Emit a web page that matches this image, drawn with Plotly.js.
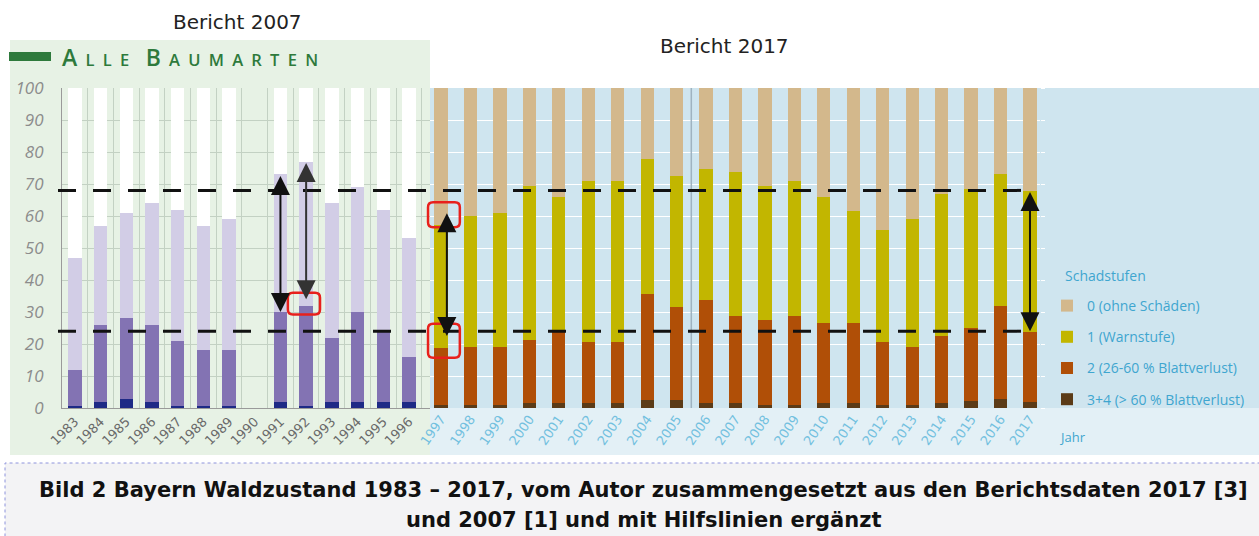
<!DOCTYPE html>
<html><head><meta charset="utf-8">
<script src="https://cdn.plot.ly/plotly-3.0.1.min.js"></script>
<style>html,body{margin:0;padding:0;background:#fff}#chart{width:1259px;height:536px}</style>
</head><body><div id="chart"></div>
<script>
// ---- Data: Bericht 2007 (1983-1996) ----
const yearsL = ['1983','1984','1985','1986','1987','1988','1989','1990','1991','1992','1993','1994','1995','1996'];
const l34 = [0.7,2,2.8,2,0.7,0.7,0.7,null,2,0.7,2,2,2,2];
const l2  = [11.3,24,25.2,24,20.3,17.3,17.3,null,28,31.3,20,28,22,14];
const l1  = [35,31,33,38,41,39,41,null,43,45,42,39,38,37];
const l0  = [53,43,39,36,38,43,41,null,27,23,36,31,38,47];

// ---- Data: Bericht 2017 (1997-2017) ----
const yearsR = ['1997','1998','1999','2000','2001','2002','2003','2004','2005','2006','2007','2008','2009','2010','2011','2012','2013','2014','2015','2016','2017'];
const r34 = [1,1,1,1.5,1.5,1.5,1.5,2.6,2.6,1.5,1.5,1,1,1.5,1.5,1,1,1.5,2.3,2.8,2];
const r2  = [17.7,18,18,19.9,23,19.2,19.2,33.1,28.9,32.1,27.1,26.6,27.6,25.2,25.2,19.7,18.2,21.1,22.7,29.2,21.7];
const r1  = [38.6,41,42,48.1,41.5,50.3,50.3,42.1,41.1,41.2,45,41.9,42.4,39.3,35,35,39.8,44.4,43.5,41,44];
const r0  = [42.7,40,39,30.5,34,29,29,22.2,27.4,25.2,26.4,30.5,29,34,38.3,44.3,41,33,31.5,27,32.3];

const legendNames = ['0 (ohne Schäden)','1 (Warnstufe)','2 (26-60 % Blattverlust)','3+4 (> 60 % Blattverlust)'];
const refLines = [68, 24];   // Hilfslinien

// ---- Geometry ----
const W = 1259, H = 536;
const px = x => x / W, py = y => 1 - y / H;
const domL = [px(62), px(430)], domR = [px(430), px(1040)], domY = [py(408), py(88)];
const rangeL = [-0.5, 13.82], rangeR = [-0.373, 20.34];
const xL = i => domL[0] + (i - rangeL[0]) / (rangeL[1] - rangeL[0]) * (domL[1] - domL[0]);
const xR = i => domR[0] + (i - rangeR[0]) / (rangeR[1] - rangeR[0]) * (domR[1] - domR[0]);
const yV = v => domY[0] + v / 100 * (domY[1] - domY[0]);

const colL = ['#1e2a86','#8373b3','#d2cde6','#ffffff'];
const colR = ['#5b3b17','#b04f07','#c2b600','#d3b88c'];

const traces = [];
[[l34,colL[0]],[l2,colL[1]],[l1,colL[2]],[l0,colL[3]]].forEach(([v,c]) => {
  traces.push({type:'bar', x:yearsL, y:v, xaxis:'x', yaxis:'y', marker:{color:c, line:{width:0}}, width:0.52, showlegend:false, hoverinfo:'skip'});
});
[[r34,colR[0],legendNames[3],4],[r2,colR[1],legendNames[2],3],[r1,colR[2],legendNames[1],2],[r0,colR[3],legendNames[0],1]].forEach(([v,c,n,rk]) => {
  traces.push({type:'bar', x:yearsR, y:v, xaxis:'x2', yaxis:'y2', name:n, legendgroup:n, legendrank:rk, marker:{color:c, line:{width:0}}, width:0.45, hoverinfo:'skip'});
});

const cum = (arrs, i) => arrs.reduce((s,a)=>s+(a[i]||0),0);

const shapes = [
  {type:'rect', xref:'paper', yref:'paper', x0:px(10), x1:px(430), y0:py(455), y1:py(40), fillcolor:'#e7f2e5', line:{width:0}, layer:'below'},
  {type:'rect', xref:'paper', yref:'paper', x0:px(430), x1:1, y0:py(408), y1:py(88), fillcolor:'#cfe5ef', line:{width:0}, layer:'below'},
  {type:'rect', xref:'paper', yref:'paper', x0:px(430), x1:1, y0:py(455), y1:py(408), fillcolor:'#e3f0f6', line:{width:0}, layer:'below'},
  {type:'rect', xref:'paper', yref:'paper', x0:px(9), x1:px(51), y0:py(61), y1:py(52), fillcolor:'#2e7a3c', line:{width:0}},
  {type:'line', xref:'paper', yref:'paper', x0:(xR(8)+xR(9))/2, x1:(xR(8)+xR(9))/2, y0:domY[0], y1:domY[1], line:{color:'#9fb3c0', width:1.5}},
  {type:'rect', xref:'paper', yref:'paper', x0:px(5), x1:1.01, y0:-0.01, y1:py(463), fillcolor:'#f3f3f5', line:{color:'#8d93dc', width:1, dash:'dot'}},
];
refLines.forEach(v => {
  shapes.push({type:'line', xref:'paper', yref:'paper', x0:px(58), x1:px(1036), y0:yV(v), y1:yV(v), line:{color:'#111', width:3, dash:'18px,17px'}});
});
function rbox(x0,x1,y0,y1){
  const rx = 5/W, ry = 5/H;
  const p = `M${x0+rx},${y0} L${x1-rx},${y0} Q${x1},${y0} ${x1},${y0+ry} L${x1},${y1-ry} Q${x1},${y1} ${x1-rx},${y1} L${x0+rx},${y1} Q${x0},${y1} ${x0},${y1-ry} L${x0},${y0+ry} Q${x0},${y0} ${x0+rx},${y0} Z`;
  return {type:'path', xref:'paper', yref:'paper', path:p, line:{color:'#e8201c', width:2.5}};
}
const c92 = cum([l34,l2],9);
shapes.push(rbox(xL(8.29), xL(9.54), yV(c92-2.8), yV(c92+4)));
const c97a = cum([r34,r2,r1],0), c97b = cum([r34,r2],0);
shapes.push(rbox(xR(-0.44), xR(0.64), yV(c97a-0.8), yV(c97a+7)));
shapes.push(rbox(xR(-0.44), xR(0.64), yV(c97b-3), yV(c97b+7.6)));

const sp = '\u2002';
const header = '<span style="font-size:23px">A</span>' + sp + ['L','L','E'].join(sp) + sp + sp + '<span style="font-size:23px">B</span>' + sp + 'AUMARTEN'.split('').join(sp);
const ann = (text, x, y, font, extra) => Object.assign({text, xref:'paper', yref:'paper', x:px(x), y:py(y), xanchor:'center', yanchor:'middle', showarrow:false, font}, extra||{});
const annotations = [
  ann('Bericht 2007', 237, 22, {family:'DejaVu Sans', size:20, color:'#222'}),
  ann('Bericht 2017', 724, 46, {family:'DejaVu Sans', size:20, color:'#222'}),
  ann(header, 60, 57, {family:'Open Sans', size:16.5, color:'#2e7a3c', weight:600}, {xanchor:'left'}),
  ann('Schadstufen', 1063, 275, {family:'Open Sans', size:14, color:'#3fa6cf'}, {xanchor:'left'}),
  ann('Jahr', 1057, 437, {family:'Open Sans', size:13, color:'#3fa6cf'}, {xanchor:'left'}),
  ann('<b>Bild 2 Bayern Waldzustand 1983 – 2017, vom Autor zusammengesetzt aus den Berichtsdaten 2017 [3]</b>', 643, 490, {family:'DejaVu Sans', size:21, color:'#111'}),
  ann('<b>und 2007 [1] und mit Hilfslinien ergänzt</b>', 643, 520, {family:'DejaVu Sans', size:21, color:'#111'}),
];
const arrows = [
  {xa:'x', ya:'y', i:8, from:cum([l34,l2,l1],8), to:cum([l34,l2],8), col:'#111'},
  {xa:'x', ya:'y', i:9, from:cum([l34,l2,l1],9), to:c92+2, col:'#333'},
  {xa:'x2', ya:'y2', i:0.2, from:c97a+4, to:refLines[1]-1.5, col:'#111'},
  {xa:'x2', ya:'y2', i:20, from:refLines[0], to:refLines[1], col:'#111'},
];
arrows.forEach(a => annotations.push({text:'', xref:a.xa, yref:a.ya, axref:a.xa, ayref:a.ya, x:a.i, y:a.to, ax:a.i, ay:a.from,
  showarrow:true, arrowside:'end+start', arrowhead:2, arrowsize:1.9, arrowwidth:2, arrowcolor:a.col, standoff:0, startstandoff:0}));

const layout = {
  width:W, height:H, margin:{l:0,r:0,t:0,b:0}, paper_bgcolor:'#ffffff', plot_bgcolor:'rgba(0,0,0,0)',
  barmode:'stack', showlegend:true,
  xaxis:{domain:domL, anchor:'y', type:'category', range:rangeL, tickangle:-45, tickson:'boundaries', showgrid:true, gridcolor:'#c3d1c3',
    ticks:'', showline:true, linecolor:'#9a9a9a', tickfont:{family:'DejaVu Sans', size:13, color:'#6a6a6a'}, fixedrange:true},
  yaxis:{domain:domY, anchor:'x', range:[0,100], dtick:10, showgrid:true, gridcolor:'#c3d1c3', zeroline:false, showline:true, linecolor:'#9a9a9a',
    ticks:'', ticklabelstandoff:14, tickfont:{family:'Open Sans', size:17, style:'italic', color:'#8c8c8c'}},
  xaxis2:{domain:domR, anchor:'y2', type:'category', range:rangeR, tickangle:-55, showgrid:false, ticks:'', showline:false,
    tickfont:{family:'DejaVu Sans', size:13, color:'#72c0df'}},
  yaxis2:{domain:domY, anchor:'x2', range:[0,100], dtick:10, showgrid:true, gridcolor:'#ffffff', zeroline:false, showticklabels:false, showline:false,
    side:'right', ticks:'outside', ticklen:4, tickcolor:'#ffffff'},
  legend:{x:px(1047), y:py(290), xanchor:'left', yanchor:'top', traceorder:'grouped', tracegroupgap:10, bgcolor:'rgba(0,0,0,0)',
    font:{family:'Open Sans', size:14, color:'#3fa6cf'}, itemclick:false},
  shapes, annotations
};
Plotly.newPlot('chart', traces, layout, {displayModeBar:false, staticPlot:true});
</script></body></html>
